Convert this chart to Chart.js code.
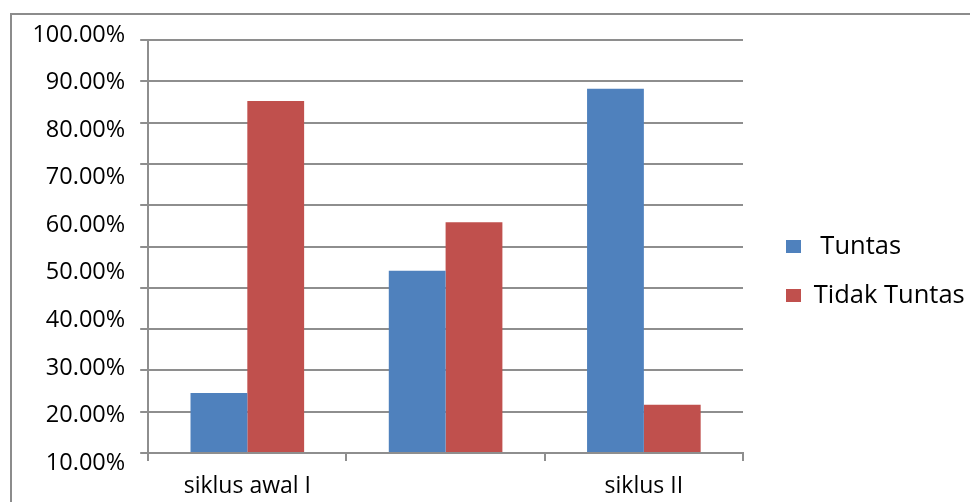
<!DOCTYPE html>
<html>
<head>
<meta charset="utf-8">
<script src="https://cdn.jsdelivr.net/npm/chart.js@4"></script>
<style>
  body { margin: 0; background: #fff; overflow: hidden; }
  #wrap { position: relative; width: 970px; height: 502px; }
</style>
</head>
<body>
<div id="wrap"><canvas id="myChart"></canvas></div>
<script>
// categories + series (percent)
const categories = ['siklus awal I', '', 'siklus II'];
const tuntas = [14.5, 44.1, 88.2];
const tidakTuntas = [85.2, 55.9, 11.7];
// the printed axis labels (they don't line up with the gridlines in the original)
const tickLabels = [10, 20, 30, 40, 50, 60, 70, 80, 90, 100];

const gray = '#8e8e8e';
const font = 'Open Sans';

// outer frame around the whole chart
const framePlugin = {
    id: 'frame',
    beforeDraw(chart) {
        const ctx = chart.ctx;
        ctx.save();
        ctx.strokeStyle = '#8c8c8c';
        ctx.lineWidth = 2;
        ctx.strokeRect(11, 14, 1000, 1000);
        ctx.restore();
    }
};

// the layout caps a side legend's width, which cuts "Tidak Tuntas" off
const wideLegend = {
    id: 'wideLegend',
    beforeLayout(chart) {
        const legend = chart.legend;
        if (!legend || legend._wide) return;
        const fit = legend.fit;
        legend.fit = function () {
            fit.call(this);
            this.width = 205;
        };
        legend._wide = true;
    }
};

const ctx = document.getElementById('myChart').getContext('2d');
new Chart(ctx, {
    type: 'bar',
    data: {
        labels: categories,
        datasets: [
            { label: ' Tuntas', data: tuntas, backgroundColor: '#4F81BD' },
            { label: 'Tidak Tuntas', data: tidakTuntas, backgroundColor: '#C0504D' }
        ]
    },
    options: {
        responsive: true,
        maintainAspectRatio: false,
        animation: false,
        barPercentage: 1,
        categoryPercentage: 0.573,
        layout: { padding: { left: 22, top: 40, right: 2.5, bottom: 0 } },
        plugins: {
            tooltip: { enabled: false },
            legend: {
                position: 'right',
                labels: {
                    color: '#000',
                    font: { family: font, size: 25.5 },
                    boxWidth: 15,
                    boxHeight: 13,
                    padding: 23.5
                }
            }
        },
        scales: {
            x: {
                grid: { drawOnChartArea: false, drawTicks: true, tickLength: 8, color: gray, lineWidth: 2 },
                border: { color: gray, width: 2 },
                ticks: { color: '#000', font: { family: font, size: 23 }, padding: 12 },
                afterFit(scale) { scale.height = 49; }
            },
            y: {
                min: 0,
                max: 100,
                weight: 0,
                ticks: { stepSize: 10, display: false },
                grid: { color: gray, lineWidth: 2, tickLength: 8 },
                border: { color: gray, width: 2 }
            },
            y2: {
                position: 'left',
                // stretched so the printed labels sit where the original puts them
                min: 12.1,
                max: 98.95,
                weight: 1,
                afterBuildTicks(scale) {
                    scale.ticks = tickLabels.map(v => ({ value: v }));
                },
                grid: { display: false, drawTicks: false },
                border: { display: false },
                ticks: {
                    color: '#000',
                    font: { family: font, size: 23.5 },
                    padding: 15,
                    callback: v => v.toFixed(2) + '%'
                }
            },
            // empty spacer between plot and legend
            gap: {
                position: 'right',
                min: 0,
                max: 1,
                grid: { display: false, drawTicks: false },
                border: { display: false },
                ticks: { display: false },
                afterFit(scale) { scale.width = 19.5; }
            }
        }
    },
    plugins: [framePlugin, wideLegend]
});
</script>
</body>
</html>
